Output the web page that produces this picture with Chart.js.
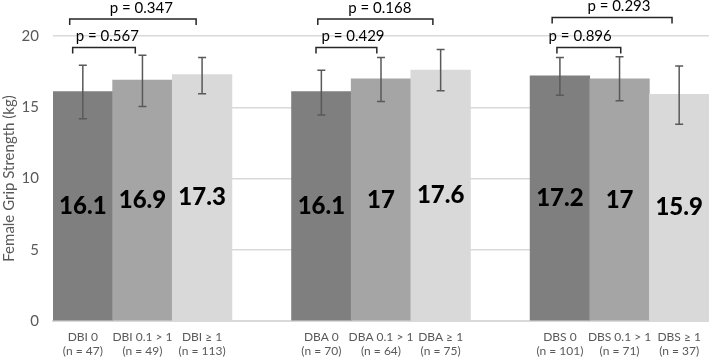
<!DOCTYPE html>
<html>
<head>
<meta charset="utf-8">
<script src="https://cdn.jsdelivr.net/npm/chart.js@4"></script>
<style>
  html, body { margin: 0; padding: 0; background: #fff; }
  #wrap { width: 709px; height: 358px; }
</style>
</head>
<body>
<div id="wrap"><canvas id="gripChart"></canvas></div>
<script>
// 11 slots: three groups of three bars with an empty slot between groups
const groupLabels = [
  ["DBI 0", "(n = 47)"], ["DBI 0.1 > 1", "(n = 49)"], ["DBI \u2265 1", "(n = 113)"], "",
  ["DBA 0", "(n = 70)"], ["DBA 0.1 > 1", "(n = 64)"], ["DBA \u2265 1", "(n = 75)"], "",
  ["DBS 0", "(n = 101)"], ["DBS 0.1 > 1", "(n = 71)"], ["DBS \u2265 1", "(n = 37)"]
];
const meanValues = [16.1, 16.9, 17.3, null, 16.1, 17, 17.6, null, 17.2, 17, 15.9];
const errorHigh = [17.95, 18.65, 18.5, null, 17.6, 18.5, 19.05, null, 18.5, 18.55, 17.9];
const errorLow  = [14.2, 15.05, 15.95, null, 14.45, 15.4, 16.15, null, 15.85, 15.45, 13.8];
const barColors = ["#7f7f7f", "#a5a5a5", "#d9d9d9", "#fff",
                   "#7f7f7f", "#a5a5a5", "#d9d9d9", "#fff",
                   "#7f7f7f", "#a5a5a5", "#d9d9d9"];
const yTicks = [0, 5, 10, 15, 20];
const pValues = ["p = 0.567", "p = 0.347", "p = 0.429", "p = 0.168", "p = 0.896", "p = 0.293"];

// bracket placement in category units (from, to, label centre) and value level
const brackets = [
  { from: -0.17, to: 0.88, mid: 0.41, level: 19.2 },
  { from: -0.22, to: 1.90, mid: 0.98, level: 21.2 },
  { from: 3.91, to: 4.93, mid: 4.53, level: 19.2 },
  { from: 3.94, to: 5.87, mid: 4.98, level: 21.2 },
  { from: 7.95, to: 9.02, mid: 8.34, level: 19.2 },
  { from: 7.87, to: 9.88, mid: 8.99, level: 21.3 }
];

const FONT = "Lato, 'Open Sans', sans-serif";

const overlayPlugin = {
  id: "overlay",
  afterDatasetsDraw(chart) {
    const ctx = chart.ctx;
    const x = chart.scales.x, y = chart.scales.y;
    const meta = chart.getDatasetMeta(0);
    ctx.save();

    // error bars
    ctx.strokeStyle = "#595959";
    ctx.lineWidth = 1.5;
    meanValues.forEach((v, i) => {
      if (v === null) return;
      const cx = meta.data[i].x;
      const top = y.getPixelForValue(errorHigh[i]);
      const bot = y.getPixelForValue(errorLow[i]);
      ctx.beginPath();
      ctx.moveTo(cx, top); ctx.lineTo(cx, bot);
      ctx.moveTo(cx - 4, top); ctx.lineTo(cx + 4, top);
      ctx.moveTo(cx - 4, bot); ctx.lineTo(cx + 4, bot);
      ctx.stroke();
    });

    // value labels centred in bars
    ctx.fillStyle = "#000";
    ctx.font = "900 24px " + FONT;
    ctx.textAlign = "center";
    ctx.textBaseline = "middle";
    meanValues.forEach((v, i) => {
      if (v === null) return;
      const cx = meta.data[i].x;
      ctx.fillText(String(v), cx, y.getPixelForValue(v / 2));
    });

    // significance brackets
    ctx.strokeStyle = "#262626";
    ctx.lineWidth = 1.5;
    ctx.font = "15px " + FONT;
    brackets.forEach((b, k) => {
      const x1 = x.getPixelForValue(b.from);
      const x2 = x.getPixelForValue(b.to);
      const ly = y.getPixelForValue(b.level);
      ctx.beginPath();
      ctx.moveTo(x1, ly + 6); ctx.lineTo(x1, ly);
      ctx.lineTo(x2, ly); ctx.lineTo(x2, ly + 6);
      ctx.stroke();
      ctx.fillText(pValues[k], x.getPixelForValue(b.mid), ly - 11);
    });
    ctx.restore();
  }
};

new Chart(document.getElementById("gripChart"), {
  type: "bar",
  data: {
    labels: groupLabels,
    datasets: [{
      data: meanValues,
      backgroundColor: barColors,
      borderWidth: 0,
      barPercentage: 1.0,
      categoryPercentage: 1.0
    }]
  },
  options: {
    responsive: true,
    maintainAspectRatio: false,
    animation: false,
    layout: { padding: { top: 36, right: 0, left: 0, bottom: 0 } },
    plugins: {
      legend: { display: false },
      tooltip: { enabled: false }
    },
    scales: {
      x: {
        grid: { display: false },
        border: { display: true, color: "#d9d9d9", width: 2 },
        ticks: {
          color: "#595959",
          font: { family: FONT, size: 12, lineHeight: 1.1 },
          maxRotation: 0,
          autoSkip: false,
          padding: 2
        },
        afterFit(scale) { scale.height = 37; }
      },
      y: {
        min: 0,
        max: 20,
        afterBuildTicks(scale) { scale.ticks = yTicks.map(v => ({ value: v })); },
        grid: { color: "#d9d9d9", lineWidth: 1.5, drawTicks: false },
        border: { display: false },
        ticks: {
          color: "#595959",
          font: { family: FONT, size: 15 },
          padding: 14
        },
        title: {
          display: true,
          text: "Female Grip Strength (kg)",
          color: "#595959",
          font: { family: FONT, size: 15 },
          padding: { top: 0, bottom: 0 }
        },
        afterFit(scale) { scale.width = 53; }
      }
    }
  },
  plugins: [overlayPlugin]
});
</script>
</body>
</html>
